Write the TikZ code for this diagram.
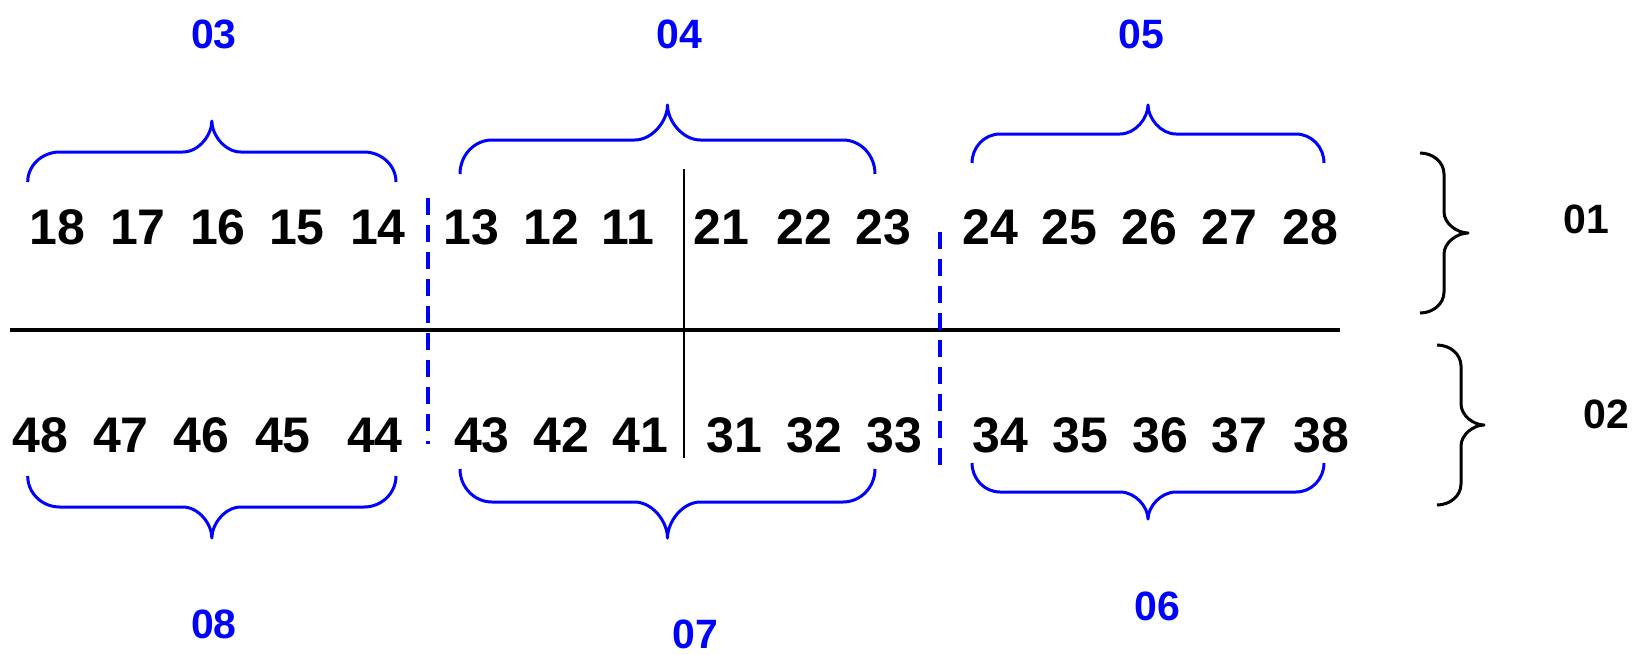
\documentclass[tikz,border=0pt]{standalone}
\usepackage{fontspec}
\setmainfont{Liberation Sans}
\definecolor{pblue}{RGB}{0,0,255}
\newcommand\hbr[7]{% xl xr yend yflat ytip rend rtip
  \pgfmathsetmacro\xm{(#1+#2)/2}%
  \pgfmathsetmacro\ka{#3+0.552*(#4-#3)}%
  \pgfmathsetmacro\kb{#4+0.552*(#5-#4)}%
  \draw[bluebrace] (#1,#3) .. controls (#1,\ka) and ({#1+0.448*#6},#4) .. ({#1+#6},#4)
    -- ({\xm-#7},#4) .. controls ({\xm-0.448*#7},#4) and (\xm,\kb) .. (\xm,#5)
    .. controls (\xm,\kb) and ({\xm+0.448*#7},#4) .. ({\xm+#7},#4)
    -- ({#2-#6},#4) .. controls ({#2-0.448*#6},#4) and (#2,\ka) .. (#2,#3);}
\newcommand\vbr[6]{% xend xline xtip ytop ybot r
  \pgfmathsetmacro\ym{(#4+#5)/2}%
  \pgfmathsetmacro\ka{#1+0.552*(#2-#1)}%
  \pgfmathsetmacro\kb{#2+0.552*(#3-#2)}%
  \draw[blackbrace] (#1,#4) .. controls (\ka,#4) and (#2,{#4+0.448*#6}) .. (#2,{#4+#6})
    -- (#2,{\ym-#6}) .. controls (#2,{\ym-0.448*#6}) and (\kb,\ym) .. (#3,\ym)
    .. controls (\kb,\ym) and (#2,{\ym+0.448*#6}) .. (#2,{\ym+#6})
    -- (#2,{#5-#6}) .. controls (#2,{#5-0.448*#6}) and (\ka,#5) .. (#1,#5);}
\begin{document}
\begin{tikzpicture}[x=1pt,y=-1pt,
  num/.style={font=\fontsize{50}{50}\selectfont\bfseries, inner sep=0pt, anchor=base},
  lab/.style={font=\fontsize{41}{41}\selectfont\bfseries, text=pblue, inner sep=0pt, anchor=base},
  blab/.style={font=\fontsize{41}{41}\selectfont\bfseries, inner sep=0pt, anchor=base},
  bluebrace/.style={draw=pblue, line width=3pt, line join=round},
  blackbrace/.style={draw=black, line width=3pt, line join=round},
  divider/.style={draw=pblue, line width=3.2pt, dash pattern=on 17pt off 10pt},
  midline/.style={draw=black, line width=2pt},
  baseline/.style={draw=black, line width=3.5pt}]
\useasboundingbox (0,0) rectangle (1637,654);
% top row
\foreach \t/\x in {18/57.5,17/138,16/218,15/297,14/378,13/471.5,12/551,11/628,21/721,22/804,23/883,24/990,25/1069,26/1149,27/1229,28/1310}
  \node[num] (n\t) at (\x,244) {\t};
% bottom row
\foreach \t/\x in {48/40.7,47/121,46/201.5,45/283,44/375,43/482,42/561,41/640,31/734,32/814,33/894,34/1000,35/1080,36/1160,37/1239,38/1321}
  \node[num] (n\t) at (\x,452) {\t};
% lines
\coordinate (hl) at (10,330);
\coordinate (hr) at (1340,330);
\draw[baseline] (hl) -- (hr);
\coordinate (vt) at (684,169);
\coordinate (vb) at (684,458);
\draw[midline] (vt) -- (vb);
\coordinate (d1t) at (428,198);
\coordinate (d1b) at (428,444);
\draw[divider] (d1t) -- (d1b);
\coordinate (d2t) at (940,232);
\coordinate (d2b) at (940,473);
\draw[divider] (d2t) -- (d2b);
% braces
\hbr{27.7}{396}{182}{152}{121}{32}{29}
\hbr{460}{875}{174}{140}{105}{32}{33}
\hbr{972}{1324}{163}{134}{105}{28}{28}
\hbr{27.7}{396}{476}{507}{538}{32}{29}
\hbr{460}{875}{469}{502}{538}{32}{33}
\hbr{972}{1324}{463}{492}{519}{28}{28}
\vbr{1420}{1444}{1468}{153}{313}{21}
\vbr{1437}{1461}{1484}{345}{505}{21}
% labels
\node[lab] (l03) at (214,48) {03};
\node[lab] (l04) at (679,48) {04};
\node[lab] (l05) at (1141,48) {05};
\node[lab] (l08) at (214,638) {08};
\node[lab] (l07) at (695,648) {07};
\node[lab] (l06) at (1157,620) {06};
\node[blab] (l01) at (1586,233) {01};
\node[blab] (l02) at (1606,428) {02};
\end{tikzpicture}
\end{document}
